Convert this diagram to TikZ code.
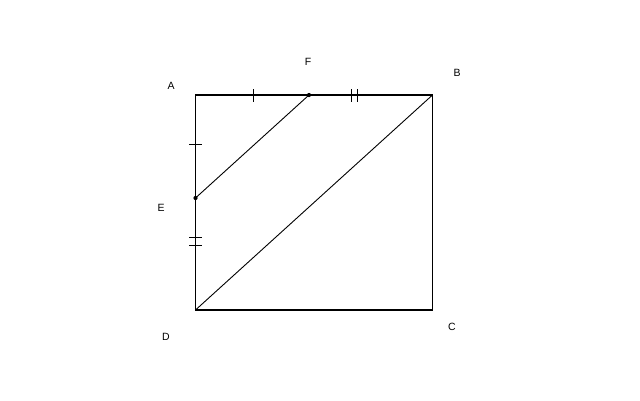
\documentclass[tikz,border=0pt]{standalone}
\usepackage{fontspec}
\setmainfont{Liberation Sans}
\usetikzlibrary{positioning,calc}

\begin{document}
\begin{tikzpicture}[
    x=1pt, y=-1pt,
    side/.style = {draw, line width=1.1pt},
    diag/.style = {draw, line width=0.9pt},
    tick/.style = {draw, line width=0.9pt},
    dot/.style = {circle, fill, inner sep=0pt, minimum size=4.2pt},
    lbl/.style = {font=\fontsize{10.5}{12}\selectfont, inner sep=0pt}
]
\useasboundingbox (0,0) rectangle (640,400);
\coordinate (A) at (195.5,95);
\coordinate (B) at (432.5,95);
\coordinate (C) at (432.5,310);
\coordinate (D) at (195.5,310);
\coordinate (E) at (195.5,198);
\coordinate (F) at (309,95);

\node[lbl] (labA) at (171,86) {A};
\node[lbl] (labF) at (308,62) {F};
\node[lbl] (labB) at (457,73) {B};
\node[lbl] (labE) at (161,208) {E};
\node[lbl] (labD) at (166,337) {D};
\node[lbl] (labC) at (452,327) {C};

\path[side] (A) -- (B) -- (C) -- (D) -- cycle;
\path[diag] (E) -- (F);
\path[diag] (D) -- (B);
\node[dot] (dotE) at (E) {};
\node[dot] (dotF) at (F) {};

% equal marks
\path[tick] (253,89) -- (253,102);
\path[tick] (351,89) -- (351,102);
\path[tick] (357,89) -- (357,102);
\path[tick] (189,144) -- (202,144);
\path[tick] (189,237) -- (202,237);
\path[tick] (189,245) -- (202,245);
\end{tikzpicture}
\end{document}
